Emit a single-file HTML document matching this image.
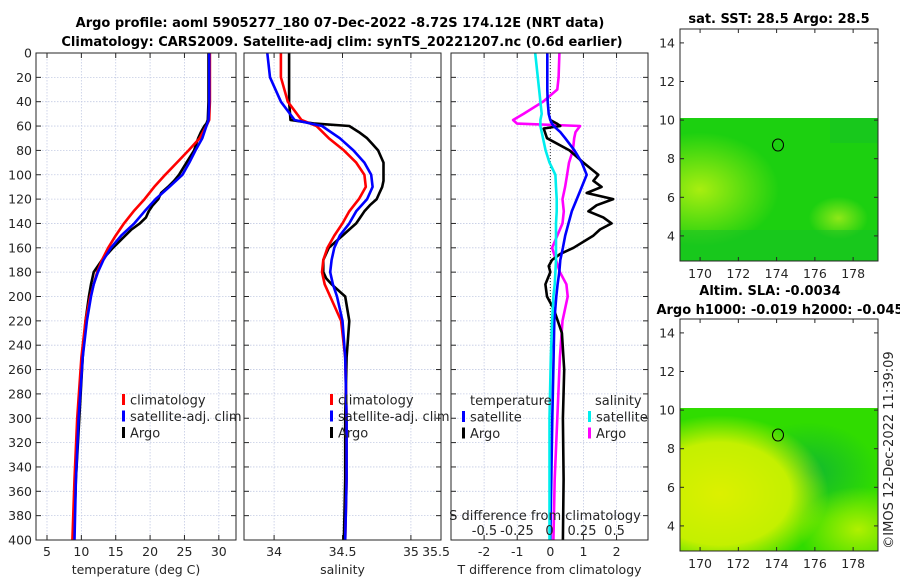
<!DOCTYPE html>
<html><head><meta charset="utf-8">
<style>
body{margin:0;background:#fff;}
svg{display:block;font-family:"DejaVu Sans","Liberation Sans",sans-serif;}
text{fill:#262626;}
.tick{font-size:12.5px;}
.ttl{font-size:13px;font-weight:bold;fill:#000;}
</style></head>
<body>
<svg id="fig" width="900" height="580" viewBox="0 0 900 580">
<defs>
<radialGradient id="g1a" cx="0.1" cy="0.5" r="0.4"><stop offset="0" stop-color="#a8ee10"/><stop offset="1" stop-color="#a8ee10" stop-opacity="0"/></radialGradient>
<radialGradient id="g1b" cx="0.8" cy="0.7" r="0.15"><stop offset="0" stop-color="#8ee818"/><stop offset="1" stop-color="#8ee818" stop-opacity="0"/></radialGradient>
<radialGradient id="g2a" cx="0.2" cy="0.6" r="0.55"><stop offset="0" stop-color="#dcf000"/><stop offset="0.65" stop-color="#c4f000"/><stop offset="1" stop-color="#c4f000" stop-opacity="0"/></radialGradient>
<radialGradient id="g2b" cx="0.9" cy="0.85" r="0.3"><stop offset="0" stop-color="#b0f000"/><stop offset="1" stop-color="#b0f000" stop-opacity="0"/></radialGradient>
<radialGradient id="g2c" cx="0.65" cy="0.45" r="0.35"><stop offset="0" stop-color="#10b830"/><stop offset="1" stop-color="#10b830" stop-opacity="0"/></radialGradient>
</defs>
<text class="ttl" x="340" y="27" text-anchor="middle">Argo profile: aoml 5905277_180 07-Dec-2022 -8.72S 174.12E (NRT data)</text>
<text class="ttl" x="342" y="46" text-anchor="middle">Climatology: CARS2009. Satellite-adj clim: synTS_20221207.nc (0.6d earlier)</text>
<g id="panels"></g>

<g>
<text class="ttl" x="779" y="23" text-anchor="middle">sat. SST: 28.5 Argo: 28.5</text>
<rect x="680" y="118" width="198" height="143" fill="#1cd010"/>
<rect x="680" y="118" width="198" height="143" fill="url(#g1a)"/>
<rect x="680" y="118" width="198" height="143" fill="url(#g1b)"/>
<rect x="680" y="230" width="198" height="31" fill="#14c028" opacity="0.5"/>
<rect x="830" y="118" width="48" height="25" fill="#14c028" opacity="0.5"/>
<rect x="680" y="29" width="198" height="232" fill="none" stroke="#262626" stroke-width="1"/>
<ellipse cx="778" cy="145" rx="5.5" ry="6" fill="none" stroke="#000" stroke-width="1"/>
</g>
<g>
<text class="ttl" x="770" y="295" text-anchor="middle">Altim. SLA: -0.0034</text>
<text class="ttl" x="780" y="314" text-anchor="middle">Argo h1000: -0.019 h2000: -0.045</text>
<rect x="680" y="408" width="198" height="143" fill="#30dc00"/>
<rect x="680" y="408" width="198" height="143" fill="url(#g2c)"/>
<rect x="680" y="408" width="198" height="143" fill="url(#g2a)"/>
<rect x="680" y="408" width="198" height="143" fill="url(#g2b)"/>
<rect x="680" y="319" width="198" height="232" fill="none" stroke="#262626" stroke-width="1"/>
<ellipse cx="778" cy="435" rx="5.5" ry="6" fill="none" stroke="#000" stroke-width="1"/>
</g>
<g id="maplabels"></g>
<text x="893" y="450" font-size="13" transform="rotate(-90 893 450)" text-anchor="middle">©IMOS 12-Dec-2022 11:39:09</text>
</svg>
<script>
// ---- data ----
const depthTicks = [0,20,40,60,80,100,120,140,160,180,200,220,240,260,280,300,320,340,360,380,400];
const tempTicks = [5,10,15,20,25,30];
const salTicks = [34,34.5,35,35.5];
const tdiffTicks = [-2,-1,0,1,2];
const sdiffTicks = [-0.5,-0.25,0,0.25,0.5];
const sdiffLabels = ["-0.5","-0.25","0","0.25","0.5"];

const climDepth = [0,20,40,55,60,70,80,90,100,110,120,130,140,150,160,170,180,190,200,220,250,300,350,400];
const climTemp  = [28.7,28.7,28.7,28.6,28.2,27.2,25.6,23.9,22.2,20.6,19.2,17.6,16.2,15.0,13.9,13.0,12.3,11.8,11.3,10.6,10.0,9.4,9.0,8.7];
const satTemp   = [28.6,28.6,28.6,28.5,28.2,27.6,26.6,25.7,24.7,22.8,20.8,19.2,17.7,15.8,14.3,13.2,12.4,11.8,11.4,10.8,10.2,9.6,9.2,9.0];
const argoDepth = [0,20,40,55,58,60,65,70,75,80,90,100,105,110,115,120,125,130,135,140,145,150,160,170,180,185,190,200,220,250,300,350,400];
const argoTemp  = [28.5,28.5,28.5,28.4,28.2,27.9,27.4,27.0,26.7,26.4,25.3,24.2,23.5,22.6,21.6,21.2,20.4,19.8,19.4,18.5,17.3,16.4,14.6,13.0,11.8,11.6,11.4,11.1,10.6,10.2,9.7,9.2,8.9];

const climSal = [34.05,34.05,34.1,34.2,34.31,34.4,34.51,34.6,34.66,34.67,34.62,34.55,34.5,34.44,34.39,34.36,34.35,34.37,34.41,34.49,34.52,34.53,34.53,34.52];
const satSal  = [33.95,33.97,34.05,34.15,34.35,34.48,34.58,34.66,34.71,34.72,34.68,34.6,34.55,34.48,34.44,34.42,34.41,34.43,34.46,34.5,34.52,34.53,34.53,34.52];
const argoSal = [34.11,34.11,34.11,34.12,34.3,34.55,34.62,34.68,34.72,34.76,34.8,34.8,34.8,34.79,34.77,34.75,34.7,34.66,34.63,34.6,34.55,34.5,34.4,34.36,34.36,34.38,34.42,34.52,34.55,34.53,34.52,34.52,34.51];

const diffDepth = [0,20,30,40,50,55,58,60,65,70,80,90,100,110,120,130,140,150,160,170,180,190,200,220,250,300,350,400];
const tSatDiff  = [-0.09,-0.09,-0.09,-0.08,-0.05,0.0,0.05,0.1,0.3,0.45,0.73,0.95,1.1,0.95,0.8,0.65,0.55,0.45,0.38,0.3,0.27,0.22,0.18,0.12,0.1,0.06,0.03,0.0];
const sSatDiff  = [-0.11,-0.09,-0.08,-0.07,-0.06,-0.07,-0.07,-0.07,-0.06,-0.05,-0.03,0.0,0.045,0.05,0.055,0.055,0.05,0.05,0.05,0.05,0.045,0.04,0.03,0.02,0.01,0.0,0.0,0.0];
const sArgoDiff = [0.076,0.07,0.06,-0.05,-0.2,-0.28,-0.25,0.235,0.2,0.19,0.18,0.15,0.135,0.12,0.1,0.11,0.1,0.06,0.02,0.05,0.08,0.13,0.14,0.1,0.08,0.06,0.04,0.03];
const tArgoDepth = [55,58,60,62,70,80,90,100,105,110,115,120,125,130,135,140,145,150,160,165,170,175,180,190,200,210,230,260,300,350,400];
const tArgoDiff  = [0.0,0.2,0.3,-0.2,-0.1,0.58,1.0,1.45,1.3,1.55,1.1,1.9,1.4,1.15,1.6,1.85,1.5,1.3,0.7,0.3,0.05,-0.05,0.0,-0.15,-0.1,0.1,0.35,0.42,0.38,0.4,0.38];

const latTicks = [4,6,8,10,12,14];
const lonTicks = [170,172,174,176,178];

// ---- scales ----
const yTop=53, yBot=540, dMax=400;
const yD = d => yTop + d/dMax*(yBot-yTop);
const P1 = {x0:36,x1:236,min:3.4,max:32.5};
const P2 = {x0:244,x1:441,min:33.78,max:35.22};
const P3 = {x0:451,x1:648,min:-3.0,max:2.95};
const sx = (p,v) => p.x0 + (v-p.min)/(p.max-p.min)*(p.x1-p.x0);
const P3s = {x0:451,x1:648,min:-0.7575,max:0.7575};
const NS='http://www.w3.org/2000/svg';
const G=document.getElementById('panels');
function el(tag,attrs,parent){const e=document.createElementNS(NS,tag);for(const k in attrs)e.setAttribute(k,attrs[k]);(parent||G).appendChild(e);return e;}

function panel(p,name,xt,xlabels,xtitle,showY){
  const g=el('g',{});
  
  
  depthTicks.forEach(d=>{
    const gl=el('line',{x1:p.x0,x2:p.x1,y1:yD(d),y2:yD(d),stroke:'#c4cbe4','stroke-width':0.8,'stroke-dasharray':'1.5,1.5'},g);
    
    
    el('line',{x1:p.x0,x2:p.x0+5,y1:yD(d),y2:yD(d),stroke:'#262626'},g);
    el('line',{x1:p.x1-5,x2:p.x1,y1:yD(d),y2:yD(d),stroke:'#262626'},g);
    if(showY){const t=el('text',{x:p.x0-4,y:yD(d)+4.5,'text-anchor':'end',class:'tick'},g);t.textContent=d;
      
      }
  });
  xt.forEach((v,i)=>{
    const x=sx(p,v);
    if(x<=p.x1+1){
      el('line',{x1:x,x2:x,y1:yTop,y2:yBot,stroke:'#c4cbe4','stroke-width':0.8,'stroke-dasharray':'1.5,1.5'},g);
      el('line',{x1:x,x2:x,y1:yBot-5,y2:yBot,stroke:'#262626'},g);
      el('line',{x1:x,x2:x,y1:yTop,y2:yTop+5,stroke:'#262626'},g);
    }
    const t=el('text',{x:x>p.x1?p.x1-5:x,y:yBot+16,'text-anchor':'middle',class:'tick'},g);
    t.textContent=xlabels[i];
    
    
  });
  const tt=el('text',{x:(p.x0+p.x1)/2,y:yBot+34,'text-anchor':'middle',class:'tick','font-size':'13'},g);
  tt.textContent=xtitle;
  
  
  return g;
}
function line(p,xs,ds,color,name,w){
  const pts=xs.map((v,i)=>sx(p,v).toFixed(1)+','+yD(ds[i]).toFixed(1)).join(' ');
  const l=el('polyline',{points:pts,fill:'none',stroke:color,'stroke-width':w||2.6,'stroke-linejoin':'round'});
  
  
}
function frame(p){el('rect',{x:p.x0,y:yTop,width:p.x1-p.x0,height:yBot-yTop,fill:'none',stroke:'#262626','stroke-width':1});}
function legend(x,y,items){
  items.forEach((it,i)=>{
    const yy=y+i*16.5;
    const b=el('rect',{x:x,y:yy-6,width:3,height:11,fill:it[1]});
    
    
    const t=el('text',{x:x+8,y:yy+4.5,'font-size':'13'});
    t.textContent=it[0];
    
    
  });
}

// Panel 1
panel(P1,'temperature-panel',tempTicks,tempTicks.map(String),'temperature (deg C)',true);
line(P1,argoTemp,argoDepth,'#000','argo-temperature-line');
line(P1,climTemp,climDepth,'#f00','climatology-temperature-line');
line(P1,satTemp,climDepth,'#00f','satellite-temperature-line');
frame(P1);
legend(122,400,[['climatology','#f00'],['satellite-adj. clim','#00f'],['Argo','#000']]);

// Panel 2
panel(P2,'salinity-panel',salTicks,salTicks.map(String),'salinity',false);
line(P2,argoSal,argoDepth,'#000','argo-salinity-line');
line(P2,climSal,climDepth,'#f00','climatology-salinity-line');
line(P2,satSal,climDepth,'#00f','satellite-salinity-line');
frame(P2);
legend(330,400,[['climatology','#f00'],['satellite-adj. clim','#00f'],['Argo','#000']]);

// Panel 3
panel(P3,'difference-panel',tdiffTicks,tdiffTicks.map(String),'T difference from climatology',false);
el('line',{x1:sx(P3,0),x2:sx(P3,0),y1:yTop,y2:yBot,stroke:'#333','stroke-width':1,'stroke-dasharray':'1,2'});
line(P3s,sArgoDiff,diffDepth,'#f0f','argo-salinity-diff-line');
line(P3,tArgoDiff,tArgoDepth,'#000','argo-temperature-diff-line');
line(P3,tSatDiff,diffDepth,'#00f','satellite-temperature-diff-line');
line(P3s,sSatDiff,diffDepth,'#0ee','satellite-salinity-diff-line');
frame(P3);
(function(){
  const t=el('text',{x:470,y:405,'font-size':'13'});t.textContent='temperature';
  
  
  const s=el('text',{x:595,y:405,'font-size':'13'});s.textContent='salinity';
  
  
})();
legend(462,417,[['satellite','#00f'],['Argo','#000']]);
legend(588,417,[['satellite','#0ee'],['Argo','#f0f']]);
(function(){
  const t=el('text',{x:545,y:520,'text-anchor':'middle','font-size':'13'});t.textContent='S difference from climatology';
  
  
  sdiffTicks.forEach((v,i)=>{
    const l=el('text',{x:sx(P3s,v),y:535,'text-anchor':'middle','font-size':'13'});l.textContent=sdiffLabels[i];
    
    
  });
})();

// map axes
const ML=document.getElementById('maplabels');
function mapAxes(top,bot){
  const latY = la => top + (14.72-la)/(14.72-2.7)*(bot-top);
  const lonX = lo => 680 + (lo-168.95)/(179.3-168.95)*198;
  latTicks.forEach(la=>{
    const y=latY(la);
    el('line',{x1:680,x2:684,y1:y,y2:y,stroke:'#262626'},ML);
    el('line',{x1:874,x2:878,y1:y,y2:y,stroke:'#262626'},ML);
    const t=el('text',{x:675,y:y+4.5,'text-anchor':'end',class:'tick'},ML);t.textContent=la;
    
    
  });
  lonTicks.forEach(lo=>{
    const x=lonX(lo);
    el('line',{x1:x,x2:x,y1:bot-4,y2:bot,stroke:'#262626'},ML);
    el('line',{x1:x,x2:x,y1:top,y2:top+4,stroke:'#262626'},ML);
    const t=el('text',{x:x,y:bot+17,'text-anchor':'middle',class:'tick'},ML);t.textContent=lo;
    
    
  });
}
mapAxes(29,261);
mapAxes(319,551);
</script>
</body></html>
